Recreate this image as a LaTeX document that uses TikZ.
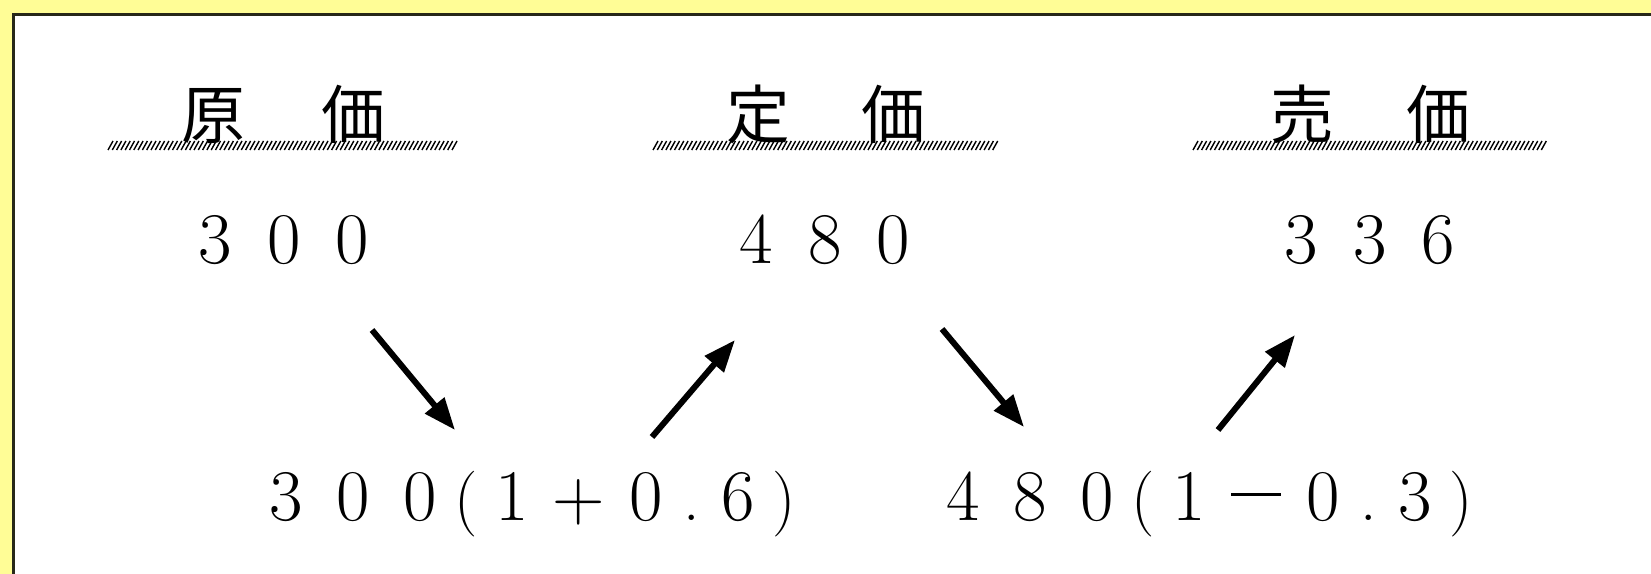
\documentclass[tikz,border=0pt]{standalone}
\usepackage{fontspec}
\newfontfamily\jp{Noto Sans CJK JP}
\usetikzlibrary{arrows.meta}
\definecolor{bgyellow}{RGB}{255,253,150}
\definecolor{framec}{RGB}{40,40,25}
\newcommand\dg[1]{\makebox[67bp][c]{#1}}
\newcommand\tg[1]{\makebox[68.5bp][c]{#1}}
\newcommand\pc[1]{\makebox[25bp][c]{\fontsize{66}{66}\selectfont #1}}
\newcommand\mns{\raisebox{24bp}{\rule{50bp}{3bp}}}
\begin{document}
\begin{tikzpicture}[x=1bp,y=-1bp,
  hdr/.style={font=\jp\fontsize{64}{64}\selectfont, inner sep=0pt, anchor=base},
  num/.style={font=\fontsize{73}{73}\selectfont, inner sep=0pt, anchor=base},
  arr/.style={line width=6bp, -{Triangle[length=32bp,width=24bp]}},
  hatch/.style={line width=1.4bp}]
\useasboundingbox (0,0) rectangle (1651,574);
\fill[bgyellow] (0,0) rectangle (1651,574);
\fill[white] (14,15) rectangle (1651,574);
\draw[line width=3bp, draw=framec] (13.5,574) -- (13.5,14.5) -- (1651,14.5);
% hatched ground lines
\foreach \x in {108,112.3,...,453} \draw[hatch] (\x,150) -- (\x+5,141);
\foreach \x in {653,657.3,...,996} \draw[hatch] (\x,150) -- (\x+5,141);
\foreach \x in {1193,1197.3,...,1542} \draw[hatch] (\x,150) -- (\x+5,141);
% headers
\node[hdr] (h1a) at (213,139) {原};
\node[hdr] (h1b) at (353,139) {価};
\node[hdr] (h2a) at (758,139) {定};
\node[hdr] (h2b) at (893,139) {価};
\node[hdr] (h3a) at (1302,139) {売};
\node[hdr] (h3b) at (1438,139) {価};
% top numbers
\node[num] (n1) at (284,263) {\tg{3}\tg{0}\tg{0}};
\node[num] (n2) at (825,263) {\tg{4}\tg{8}\tg{0}};
\node[num] (n3) at (1370,263) {\tg{3}\tg{3}\tg{6}};
% bottom expressions
\node[num, anchor=base west] (e1) at (252.5,520) {\dg{3}\dg{0}\dg{0}\pc{(}\dg{1}\dg{+}\dg{0}\pc{.}\dg{6}\pc{)}};
\node[num, anchor=base west] (e2) at (929.5,520) {\dg{4}\dg{8}\dg{0}\pc{(}\dg{1}\dg{\mns}\dg{0}\pc{.}\dg{3}\pc{)}};
% arrows
\coordinate (a1s) at (372,330); \coordinate (a1e) at (455,430);
\coordinate (a2s) at (652,437); \coordinate (a2e) at (735,340);
\coordinate (a3s) at (942,329); \coordinate (a3e) at (1024,427);
\coordinate (a4s) at (1218,430); \coordinate (a4e) at (1295,335);
\draw[arr] (a1s) -- (a1e);
\draw[arr] (a2s) -- (a2e);
\draw[arr] (a3s) -- (a3e);
\draw[arr] (a4s) -- (a4e);
\end{tikzpicture}
\end{document}
